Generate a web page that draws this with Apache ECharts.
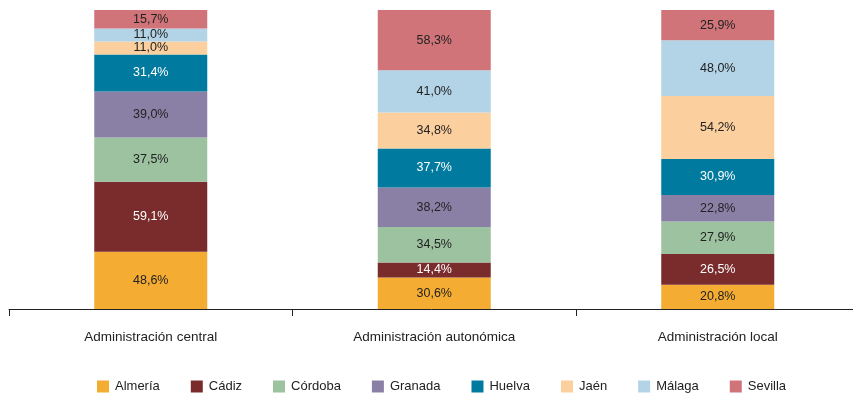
<!DOCTYPE html>
<html>
<head>
<meta charset="utf-8">
<script src="https://cdn.jsdelivr.net/npm/echarts@6/dist/echarts.min.js"></script>
<style>
  html, body { margin: 0; padding: 0; background: #fff; }
  #chart { width: 853px; height: 395px; }
</style>
</head>
<body>
<div id="chart"></div>
<script>
// categorías y valores (en %)
const categories = ['Administración central', 'Administración autonómica', 'Administración local'];
const provinces = ['Almería', 'Cádiz', 'Córdoba', 'Granada', 'Huelva', 'Jaén', 'Málaga', 'Sevilla'];
const almeria = [48.6, 30.6, 20.8];
const cadiz = [59.1, 14.4, 26.5];
const cordoba = [37.5, 34.5, 27.9];
const granada = [39.0, 38.2, 22.8];
const huelva = [31.4, 37.7, 30.9];
const jaen = [11.0, 34.8, 54.2];
const malaga = [11.0, 41.0, 48.0];
const sevilla = [15.7, 58.3, 25.9];

const values = [almeria, cadiz, cordoba, granada, huelva, jaen, malaga, sevilla];
const colors = ['#F5AC33', '#7A2C2D', '#9CC29F', '#8A80A6', '#007A9E', '#FBCF9E', '#B3D4E6', '#D07479'];
const labelColors = ['#222', '#fff', '#222', '#222', '#fff', '#222', '#222', '#222'];
const font = 'Liberation Sans, Arial, sans-serif';

// cada barra ocupa el 100% de la altura
const totals = categories.map((c, i) => values.reduce((s, arr) => s + arr[i], 0));

const chart = echarts.init(document.getElementById('chart'));

const series = provinces.map((name, k) => ({
    name: name,
    type: 'bar',
    stack: 'total',
    barWidth: 113,
    color: colors[k],
    data: values[k].map((v, i) => ({ value: v / totals[i] * 100, raw: v })),
    label: {
        show: true,
        position: 'inside',
        color: labelColors[k],
        fontSize: 12.5,
        fontFamily: font,
        formatter: function(p) {
            return p.data.raw.toFixed(1).replace('.', ',') + '%';
        }
    }
}));

chart.setOption({
    animation: false,
    grid: { left: 9, width: 850.5, top: 10, bottom: 86, outerBoundsMode: 'none', containLabel: false },
    legend: {
        data: provinces,
        left: 92,
        top: 375,
        itemWidth: 12,
        itemHeight: 12,
        itemGap: 31,
        icon: 'rect',
        textStyle: { fontSize: 13, color: '#222', fontFamily: font, padding: [0, 0, 0, 1] }
    },
    xAxis: {
        type: 'category',
        data: categories,
        axisLine: { lineStyle: { color: '#222', width: 1 } },
        axisTick: { show: true, length: 7, lineStyle: { color: '#222' } },
        axisLabel: { margin: 21, fontSize: 13.5, color: '#222', fontFamily: font }
    },
    yAxis: {
        type: 'value',
        min: 0,
        max: 100,
        show: false,
        splitLine: { show: false }
    },
    series: series
});
</script>
</body>
</html>
